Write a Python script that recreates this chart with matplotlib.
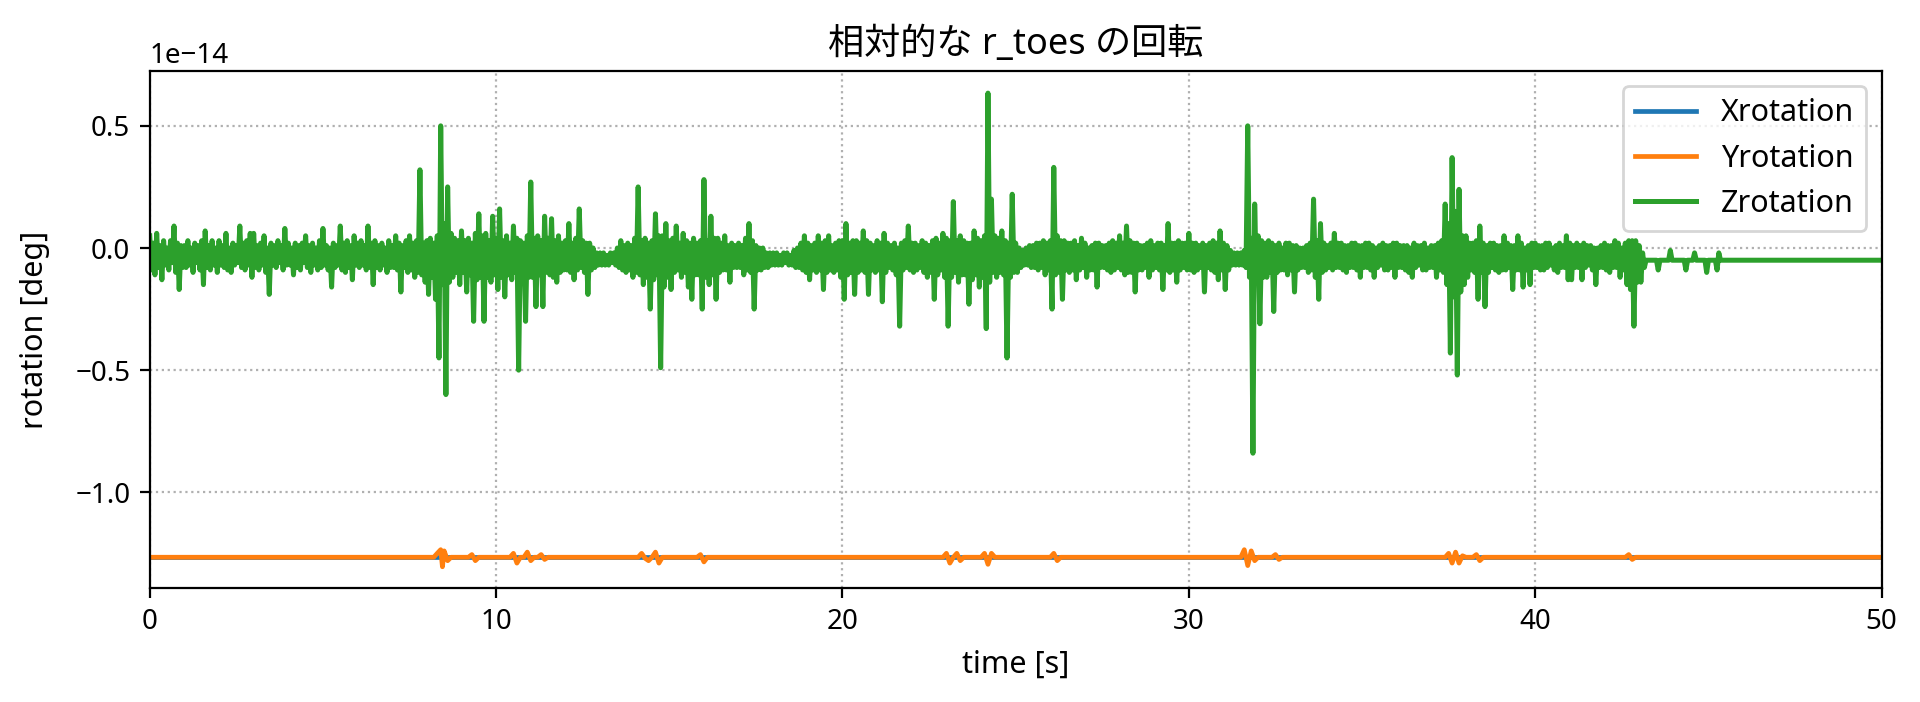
import matplotlib
matplotlib.use("Agg")
import matplotlib.pyplot as plt
from matplotlib.ticker import MultipleLocator
import numpy as np

plt.rcParams['font.family'] = ['Noto Sans', 'Noto Sans CJK JP', 'DejaVu Sans']

# sampling of the recorded data (s); each bin keeps its max and min
DT = 0.1
T_END = 50.0

# Zrotation, units of 1e-14 deg: upper / lower value in each 0.1 s bin,
# one row per second from t=0.0
z_hi = [
    0.05, 0.02, 0.06, 0.01, 0.03, 0.00, 0.03, 0.09, 0.02, 0.01,
    0.01, 0.03, 0.00, 0.02, 0.01, 0.03, 0.07, 0.01, 0.03, 0.00,
    0.03, 0.01, 0.06, 0.00, 0.02, 0.01, 0.09, 0.02, 0.03, 0.06,
    0.06, 0.01, 0.02, 0.05, 0.00, 0.02, 0.01, 0.03, 0.01, 0.08,
    0.02, 0.00, 0.02, 0.01, 0.02, 0.05, 0.01, 0.02, 0.00, 0.03,
    0.08, 0.01, 0.00, 0.02, 0.01, 0.09, 0.02, 0.03, 0.01, 0.05,
    0.02, 0.03, 0.01, 0.09, 0.02, 0.03, 0.01, 0.02, 0.00, 0.03,
    0.01, 0.05, 0.02, 0.01, 0.03, 0.05, 0.02, 0.03, 0.32, 0.02,
    0.03, 0.04, 0.02, 0.05, 0.50, 0.10, 0.25, 0.06, 0.04, 0.03,
    0.07, 0.03, 0.04, 0.02, 0.06, 0.14, 0.05, 0.06, 0.03, 0.13,
    0.04, 0.16, 0.03, 0.05, 0.02, 0.09, 0.04, 0.03, 0.02, 0.05,
    0.27, 0.04, 0.05, 0.03, 0.13, 0.04, 0.12, 0.03, 0.05, 0.02,
    0.03, 0.10, 0.02, 0.04, 0.16, 0.03, 0.02, 0.02, 0.00, -0.02,
    -0.02, -0.02, -0.03, -0.02, -0.02, 0.00, 0.03, 0.01, 0.02, 0.01,
    0.04, 0.25, 0.03, 0.04, 0.02, 0.03, 0.14, 0.05, 0.05, 0.10,
    0.03, 0.04, 0.09, 0.02, 0.06, 0.03, 0.02, 0.04, 0.02, 0.03,
    0.28, 0.03, 0.13, 0.04, 0.04, 0.02, 0.05, 0.01, 0.02, 0.01,
    0.02, 0.01, 0.04, 0.10, 0.03, 0.01, 0.00, 0.00, -0.02, -0.02,
    -0.02, -0.02, -0.03, -0.02, -0.02, -0.03, -0.01, 0.00, 0.02, 0.05,
    0.02, 0.01, 0.02, 0.05, 0.02, 0.03, 0.05, 0.01, 0.02, 0.03,
    0.03, 0.10, 0.02, 0.03, 0.03, 0.02, 0.07, 0.03, 0.02, 0.01,
    0.03, 0.02, 0.06, 0.02, 0.01, 0.02, 0.00, 0.02, 0.03, 0.09,
    0.02, 0.02, 0.01, 0.03, 0.02, 0.01, 0.03, 0.04, 0.02, 0.06,
    0.04, 0.03, 0.19, 0.03, 0.05, 0.03, 0.02, 0.02, 0.07, 0.04,
    0.03, 0.05, 0.634, 0.20, 0.05, 0.04, 0.07, 0.03, 0.02, 0.22,
    0.02, 0.00, -0.01, 0.00, 0.01, 0.01, 0.02, 0.02, 0.03, 0.02,
    0.03, 0.33, 0.05, 0.03, 0.03, 0.02, 0.02, 0.03, 0.01, 0.04,
    0.02, 0.00, 0.01, 0.02, 0.02, 0.01, 0.01, 0.02, 0.03, 0.02,
    0.05, 0.02, 0.09, 0.03, 0.02, 0.02, 0.01, 0.01, 0.02, 0.03,
    0.01, 0.02, 0.02, 0.01, 0.10, 0.02, 0.02, 0.03, 0.02, 0.02,
    0.06, 0.02, 0.02, 0.01, 0.02, 0.01, 0.02, 0.03, 0.02, 0.07,
    0.02, 0.01, -0.01, -0.02, -0.02, -0.02, -0.01, 0.50, 0.04, 0.18,
    0.05, 0.03, 0.02, 0.03, 0.02, 0.01, 0.02, 0.00, 0.02, 0.02,
    0.01, 0.01, 0.00, 0.00, 0.01, 0.02, 0.20, 0.03, 0.10, 0.02,
    0.01, 0.02, 0.06, 0.02, 0.02, 0.01, 0.01, 0.02, 0.02, 0.01,
    0.01, 0.02, 0.02, 0.01, 0.00, 0.01, 0.02, 0.01, 0.01, 0.02,
    0.02, 0.01, 0.01, 0.01, 0.00, 0.02, 0.01, 0.01, 0.02, 0.00,
    0.01, 0.01, 0.02, 0.03, 0.18, 0.10, 0.37, 0.15, 0.24, 0.05,
    0.05, 0.02, 0.02, 0.03, 0.09, 0.02, 0.01, 0.02, 0.02, 0.01,
    0.01, 0.05, 0.02, 0.01, 0.01, 0.05, 0.02, 0.00, 0.01, 0.02,
    0.02, 0.01, 0.01, 0.02, 0.02, 0.00, 0.01, 0.02, 0.01, 0.05,
    0.02, 0.01, 0.02, 0.01, 0.02, 0.01, 0.01, 0.00, 0.00, 0.01,
    0.02, 0.01, 0.01, 0.03, 0.02, 0.00, 0.02, 0.03, 0.03, 0.03,
    0.01, -0.02, -0.05, -0.05, -0.05, -0.05, -0.05, -0.05, -0.05, -0.01,
    -0.05, -0.05, -0.05, -0.05, -0.05, -0.05, -0.02, -0.05, -0.05, -0.05,
    -0.05, -0.05, -0.05, -0.02, -0.05,
]
z_lo = [
    -0.09, -0.11, -0.08, -0.13, -0.07, -0.09, -0.06, -0.10, -0.17, -0.08,
    -0.08, -0.07, -0.10, -0.06, -0.09, -0.15, -0.08, -0.09, -0.07, -0.10,
    -0.07, -0.08, -0.09, -0.10, -0.07, -0.06, -0.08, -0.09, -0.07, -0.12,
    -0.08, -0.09, -0.07, -0.10, -0.19, -0.07, -0.08, -0.06, -0.09, -0.07,
    -0.07, -0.11, -0.08, -0.09, -0.06, -0.08, -0.10, -0.07, -0.09, -0.08,
    -0.07, -0.09, -0.16, -0.08, -0.07, -0.09, -0.10, -0.08, -0.13, -0.07,
    -0.08, -0.07, -0.09, -0.08, -0.15, -0.08, -0.09, -0.07, -0.10, -0.08,
    -0.08, -0.09, -0.18, -0.08, -0.10, -0.09, -0.12, -0.10, -0.11, -0.14,
    -0.19, -0.12, -0.21, -0.45, -0.15, -0.60, -0.14, -0.12, -0.10, -0.15,
    -0.10, -0.18, -0.11, -0.30, -0.13, -0.12, -0.30, -0.12, -0.14, -0.11,
    -0.17, -0.12, -0.20, -0.11, -0.13, -0.10, -0.50, -0.14, -0.30, -0.12,
    -0.12, -0.24, -0.11, -0.24, -0.10, -0.11, -0.12, -0.14, -0.10, -0.09,
    -0.09, -0.10, -0.13, -0.09, -0.08, -0.10, -0.19, -0.09, -0.08, -0.07,
    -0.07, -0.07, -0.07, -0.06, -0.07, -0.08, -0.09, -0.10, -0.09, -0.12,
    -0.10, -0.11, -0.15, -0.12, -0.25, -0.13, -0.11, -0.49, -0.16, -0.12,
    -0.17, -0.10, -0.09, -0.12, -0.10, -0.16, -0.21, -0.11, -0.11, -0.25,
    -0.12, -0.15, -0.11, -0.21, -0.10, -0.09, -0.09, -0.14, -0.08, -0.08,
    -0.08, -0.11, -0.09, -0.10, -0.25, -0.09, -0.09, -0.08, -0.08, -0.07,
    -0.07, -0.07, -0.07, -0.06, -0.07, -0.07, -0.08, -0.08, -0.09, -0.10,
    -0.13, -0.09, -0.10, -0.09, -0.17, -0.10, -0.09, -0.10, -0.09, -0.12,
    -0.21, -0.11, -0.10, -0.19, -0.10, -0.09, -0.10, -0.19, -0.09, -0.10,
    -0.09, -0.22, -0.10, -0.08, -0.09, -0.11, -0.32, -0.09, -0.08, -0.09,
    -0.10, -0.09, -0.08, -0.10, -0.12, -0.10, -0.21, -0.11, -0.09, -0.12,
    -0.32, -0.12, -0.10, -0.14, -0.11, -0.11, -0.23, -0.13, -0.11, -0.16,
    -0.12, -0.33, -0.14, -0.10, -0.12, -0.10, -0.11, -0.45, -0.12, -0.10,
    -0.10, -0.08, -0.07, -0.07, -0.08, -0.08, -0.09, -0.08, -0.11, -0.09,
    -0.25, -0.11, -0.10, -0.21, -0.09, -0.10, -0.09, -0.13, -0.09, -0.08,
    -0.12, -0.09, -0.09, -0.16, -0.08, -0.08, -0.09, -0.10, -0.09, -0.08,
    -0.09, -0.11, -0.10, -0.10, -0.18, -0.09, -0.09, -0.08, -0.12, -0.09,
    -0.08, -0.09, -0.17, -0.09, -0.10, -0.09, -0.14, -0.09, -0.08, -0.09,
    -0.09, -0.10, -0.09, -0.08, -0.18, -0.08, -0.09, -0.10, -0.13, -0.09,
    -0.17, -0.09, -0.07, -0.07, -0.07, -0.07, -0.08, -0.12, -0.84, -0.14,
    -0.31, -0.12, -0.12, -0.10, -0.26, -0.10, -0.09, -0.09, -0.11, -0.09,
    -0.18, -0.09, -0.08, -0.08, -0.10, -0.09, -0.12, -0.21, -0.10, -0.09,
    -0.08, -0.09, -0.08, -0.08, -0.09, -0.10, -0.08, -0.08, -0.09, -0.12,
    -0.08, -0.08, -0.09, -0.12, -0.08, -0.07, -0.09, -0.09, -0.08, -0.12,
    -0.08, -0.08, -0.09, -0.10, -0.12, -0.08, -0.07, -0.09, -0.09, -0.08,
    -0.08, -0.12, -0.09, -0.10, -0.15, -0.43, -0.20, -0.52, -0.18, -0.15,
    -0.12, -0.09, -0.10, -0.21, -0.10, -0.24, -0.10, -0.08, -0.09, -0.10,
    -0.09, -0.09, -0.08, -0.17, -0.09, -0.09, -0.16, -0.09, -0.15, -0.08,
    -0.08, -0.09, -0.09, -0.08, -0.07, -0.09, -0.10, -0.08, -0.08, -0.13,
    -0.13, -0.08, -0.08, -0.13, -0.08, -0.07, -0.09, -0.15, -0.08, -0.08,
    -0.09, -0.10, -0.08, -0.08, -0.12, -0.09, -0.15, -0.17, -0.32, -0.14,
    -0.14, -0.08, -0.05, -0.05, -0.05, -0.09, -0.05, -0.05, -0.05, -0.05,
    -0.05, -0.05, -0.05, -0.09, -0.05, -0.05, -0.05, -0.05, -0.05, -0.10,
    -0.05, -0.05, -0.09, -0.05, -0.05,
]
z_rest = -0.05  # value held until the end of the record

# Yrotation, units of 1e-14 deg (flat with small wiggles at the impacts)
y_t = [0.0, 8.2, 8.3, 8.4, 8.45, 8.5, 8.6, 8.7, 9.2, 9.3, 9.4, 9.5,
       10.4, 10.5, 10.6, 10.7, 10.8, 10.9, 11.0, 11.1, 11.2, 11.3, 11.4, 11.5,
       14.1, 14.2, 14.3, 14.4, 14.5, 14.6, 14.7, 14.8, 15.8, 15.9, 16.0, 16.1,
       22.9, 23.0, 23.1, 23.2, 23.3, 23.4, 23.5, 24.0, 24.1, 24.2, 24.3, 24.4,
       26.0, 26.1, 26.2, 26.3, 31.5, 31.6, 31.7, 31.8, 31.9, 32.0,
       32.4, 32.5, 32.6, 32.7, 37.4, 37.5, 37.6, 37.7, 37.8, 37.9, 38.0,
       38.2, 38.3, 38.4, 38.5, 42.6, 42.7, 42.8, 42.9, 50.0]
y_vals = [-1.266, -1.266, -1.25, -1.235, -1.305, -1.24, -1.28, -1.266, -1.266, -1.255, -1.28, -1.266,
          -1.266, -1.25, -1.29, -1.266, -1.266, -1.245, -1.28, -1.266, -1.266, -1.255, -1.275, -1.266,
          -1.266, -1.25, -1.27, -1.28, -1.266, -1.245, -1.29, -1.266, -1.266, -1.255, -1.285, -1.266,
          -1.266, -1.25, -1.29, -1.266, -1.25, -1.28, -1.266, -1.266, -1.25, -1.295, -1.25, -1.266,
          -1.266, -1.25, -1.28, -1.266, -1.266, -1.235, -1.30, -1.24, -1.28, -1.266,
          -1.266, -1.255, -1.275, -1.266, -1.266, -1.25, -1.29, -1.245, -1.29, -1.26, -1.266,
          -1.266, -1.255, -1.28, -1.266, -1.266, -1.255, -1.275, -1.266, -1.266]

# Xrotation, units of 1e-14 deg (constant, lies under Yrotation)
x_t = [0.0, 50.0]
x_vals = [-1.266, -1.266]

SCALE = 1e-14

# max then min of every bin, like a decimated plot of the raw signal
bins = np.arange(len(z_hi)) * DT
t_z = np.append(np.column_stack([bins, bins + DT / 2]).ravel(), T_END)
z = np.append(np.column_stack([z_hi, z_lo]).ravel(), z_rest) * SCALE
yrot = np.array(y_vals) * SCALE
xrot = np.array(x_vals) * SCALE

fig = plt.figure(figsize=(9.6, 3.51), dpi=200)
ax = fig.add_axes([0.078, 0.162, 0.902, 0.737])

ax.plot(x_t, xrot, label='Xrotation', lw=1.7)
ax.plot(y_t, yrot, label='Yrotation', lw=1.7)
ax.plot(t_z, z, label='Zrotation', lw=1.8)

ax.set_xlim(0, 50)
ax.set_ylim(-1.393e-14, 0.725e-14)
ax.yaxis.set_major_locator(MultipleLocator(0.5e-14))
ax.set_title('相対的な r_toes の回転', fontsize=13)
ax.set_xlabel('time [s]', fontsize=11, labelpad=5)
ax.set_ylabel('rotation [deg]', fontsize=11, labelpad=9)
ax.grid(linestyle=':')
ax.legend(loc='upper right', fontsize=11)

fig.savefig('out.png', dpi=200)
